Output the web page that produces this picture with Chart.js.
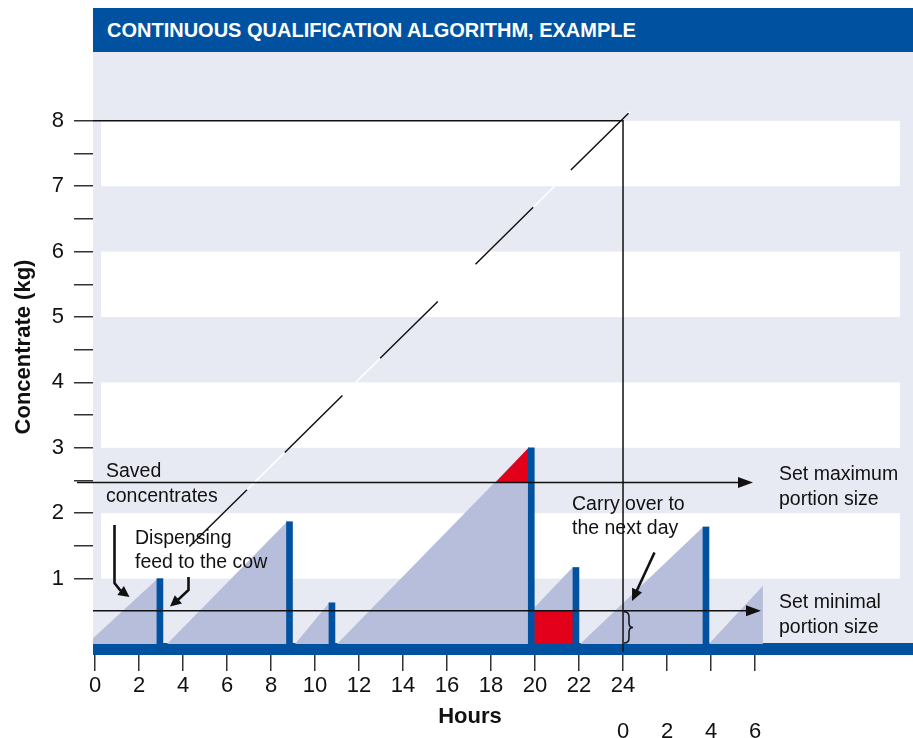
<!DOCTYPE html>
<html>
<head>
<meta charset="utf-8">
<title>Continuous qualification algorithm</title>
<script src="https://cdn.jsdelivr.net/npm/chart.js@4.4.1/dist/chart.umd.min.js"></script>
<style>
  body { margin: 0; background: #fff; }
  #wrap { position: relative; width: 913px; height: 738px; }
  #banner {
    position: absolute; left: 93px; top: 8px; width: 820px; height: 44px;
    background: #0052a0; color: #fff; box-sizing: border-box; padding-left: 14px;
    font: bold 20px "Liberation Sans", Arial, sans-serif; line-height: 44px;
  }
  canvas { position: absolute; left: 0; top: 0; }
</style>
</head>
<body>
<div id="wrap">
  <canvas id="chart" width="913" height="738"></canvas>
  <div id="banner">CONTINUOUS QUALIFICATION ALGORITHM, EXAMPLE</div>
</div>
<script>
// hours run on past midnight: 24 = 0 of the next day
var hourTicks = [0, 2, 4, 6, 8, 10, 12, 14, 16, 18, 20, 22, 24, 26, 28, 30];
var kgMarks = [1, 1.5, 2, 2.5, 3, 3.5, 4, 4.5, 5, 5.5, 6, 6.5, 7, 7.5, 8];
var whiteBands = [[1, 2], [3, 4], [5, 6], [7, 8]];

// build-up of concentrate between visits (start hour/kg -> end hour/kg)
var rampStartH = [-0.09, 3.27, 9.09, 11.0, 19.95, 22.05, 27.9];
var rampStartKg = [0.09, 0, 0, 0, 0.55, 0, 0];
var rampEndH = [2.82, 8.73, 10.64, 19.73, 21.73, 27.64, 30.36];
var rampEndKg = [0.99, 1.87, 0.63, 3.01, 1.18, 1.79, 0.89];

// feed dispensed at each visit
var visitH = [2.95, 8.84, 10.77, 19.83, 21.86, 27.77];
var visitKg = [1.0, 1.87, 0.63, 3.0, 1.17, 1.79];

var maxPortion = 2.47;
var minPortion = 0.51;
var dailyRation = 8;

// saved part above the max portion, and the carry-over below the min portion
var savedH = [18.2, 19.73];
var savedKg = [2.47, 3.01];
var carryH = [19.95, 21.73];

// cumulative allowance line
var allowH = [4.29, 24.32];
var allowKg = [1.49, 8.14];

var blue = '#0051a0';
var lightFill = '#b7bedb';
var red = '#e2001a';
var font = '"Liberation Sans", Arial, sans-serif';

var datasets = [];

datasets.push({
  label: 'day', data: [{x: -0.09, y: dailyRation}, {x: 24, y: dailyRation}, {x: 24, y: -0.12}],
  borderColor: '#111', borderWidth: 1.5, fill: false, order: 1
});
datasets.push({
  label: 'allowance', data: allowH.map(function (h, i) { return {x: h, y: allowKg[i]}; }),
  borderColor: '#111', borderWidth: 1.5, borderDash: [81, 53], fill: false, order: 2
});
datasets.push({
  label: 'allowance bg', data: allowH.map(function (h, i) { return {x: h, y: allowKg[i]}; }),
  borderColor: '#fff', borderWidth: 1.6, fill: false, order: 3
});
datasets.push({
  type: 'bar', label: 'visits', data: visitH.map(function (h, i) { return {x: h, y: visitKg[i]}; }),
  backgroundColor: blue, barThickness: 6, order: 4
});
datasets.push({
  label: 'saved', data: savedH.map(function (h, i) { return {x: h, y: savedKg[i]}; }),
  borderWidth: 0, backgroundColor: red, fill: {value: maxPortion}, order: 5
});
datasets.push({
  label: 'carry', data: carryH.map(function (h) { return {x: h, y: minPortion}; }),
  borderWidth: 0, backgroundColor: red, fill: 'origin', order: 5
});
rampStartH.forEach(function (h, i) {
  datasets.push({
    label: 'ramp' + i,
    data: [{x: h, y: rampStartKg[i]}, {x: rampEndH[i], y: rampEndKg[i]}],
    borderWidth: 0, backgroundColor: lightFill, fill: 'origin', order: 6
  });
});

var backdrop = {
  id: 'backdrop',
  beforeDatasetsDraw: function (chart) {
    var ctx = chart.ctx, a = chart.chartArea, y = chart.scales.y;
    var y0 = y.getPixelForValue(0);
    ctx.save();
    ctx.fillStyle = '#e7e9f3';
    ctx.fillRect(a.left, a.top, a.right - a.left, y0 - a.top);
    ctx.fillStyle = '#fff';
    whiteBands.forEach(function (b) {
      var t = y.getPixelForValue(b[1]), bt = y.getPixelForValue(b[0]);
      ctx.fillRect(a.left + 8, t, 900 - a.left - 8, bt - t);
    });
    ctx.fillStyle = blue;
    ctx.fillRect(a.left, y0 - 1, a.right - a.left, a.bottom - y0 + 1);
    ctx.restore();
  }
};

function arrow(ctx, pts, len, half) {
  var n = pts.length;
  var p = pts[n - 2], q = pts[n - 1];
  var ang = Math.atan2(q[1] - p[1], q[0] - p[0]);
  var bx = q[0] - len * Math.cos(ang), by = q[1] - len * Math.sin(ang);
  ctx.beginPath();
  ctx.moveTo(pts[0][0], pts[0][1]);
  for (var i = 1; i < n - 1; i++) ctx.lineTo(pts[i][0], pts[i][1]);
  ctx.lineTo(bx + Math.cos(ang), by + Math.sin(ang));
  ctx.stroke();
  ctx.beginPath();
  ctx.moveTo(q[0], q[1]);
  ctx.lineTo(bx + half * Math.sin(ang), by - half * Math.cos(ang));
  ctx.lineTo(bx - half * Math.sin(ang), by + half * Math.cos(ang));
  ctx.closePath();
  ctx.fill();
}

var notes = {
  id: 'notes',
  afterDatasetsDraw: function (chart) {
    var ctx = chart.ctx, a = chart.chartArea, y = chart.scales.y;
    ctx.save();
    ctx.strokeStyle = '#111';
    ctx.fillStyle = '#111';
    ctx.lineWidth = 1.5;
    var yMax = y.getPixelForValue(maxPortion);
    var yMin = y.getPixelForValue(minPortion);
    arrow(ctx, [[77, yMax], [753, yMax]], 15, 5.5);
    arrow(ctx, [[a.left, yMin], [761, yMin]], 15, 5.5);

    ctx.lineWidth = 2.6;
    arrow(ctx, [[114.5, 525], [114.5, 583], [120, 590], [129.5, 597]], 11, 5.5);
    arrow(ctx, [[188.5, 577], [188.5, 590], [180, 598], [170, 606.5]], 11, 5.5);
    arrow(ctx, [[654.5, 552.5], [632, 601]], 12, 5.5);

    // brace at the carry-over
    ctx.lineWidth = 1.5;
    ctx.beginPath();
    ctx.moveTo(624, yMin + 1);
    ctx.quadraticCurveTo(629, yMin + 1, 629, yMin + 6);
    ctx.lineTo(629, 623);
    ctx.quadraticCurveTo(629, 627.5, 633, 627.5);
    ctx.quadraticCurveTo(629, 627.5, 629, 632);
    ctx.lineTo(629, 638);
    ctx.quadraticCurveTo(629, 643, 624, 643);
    ctx.stroke();

    ctx.font = '19.5px ' + font;
    ctx.textBaseline = 'alphabetic';
    ctx.textAlign = 'left';
    [['Saved', 106, 477], ['concentrates', 106, 502],
     ['Dispensing', 135, 544], ['feed to the cow', 135, 568],
     ['Carry over to', 572, 510], ['the next day', 572, 533.5],
     ['Set maximum', 779, 480], ['portion size', 779, 505],
     ['Set minimal', 779, 608], ['portion size', 779, 633]].forEach(function (t) {
      ctx.fillText(t[0], t[1], t[2]);
    });

    ctx.font = 'bold 22px ' + font;
    ctx.textAlign = 'center';
    ctx.textBaseline = 'middle';
    ctx.fillText('Hours', 470, 717);
    ctx.translate(24, 347);
    ctx.rotate(-Math.PI / 2);
    ctx.fillText('Concentrate (kg)', 0, 0);
    ctx.restore();
  }
};

new Chart(document.getElementById('chart'), {
  type: 'line',
  data: { datasets: datasets },
  options: {
    responsive: false,
    animation: false,
    devicePixelRatio: 1,
    layout: { padding: { top: 52, left: 0, right: 0, bottom: 0 } },
    plugins: { legend: { display: false }, tooltip: { enabled: false } },
    elements: { point: { radius: 0 }, line: { tension: 0 } },
    scales: {
      x: {
        type: 'linear', min: -0.0909, max: 37.18, offset: false,
        afterBuildTicks: function (s) { s.ticks = hourTicks.map(function (v) { return {value: v}; }); },
        afterFit: function (s) { s.height = 83; },
        grid: { offset: false, drawOnChartArea: false, drawTicks: true, tickLength: 16, color: '#333', lineWidth: 1.5 },
        border: { display: false },
        ticks: {
          autoSkip: false, maxRotation: 0, padding: -8, color: '#111',
          font: { family: font, size: 22, lineHeight: 46 / 22 },
          callback: function (v) {
            if (v < 24) return String(v);
            if (v === 24) return ['24', '0'];
            return ['', String(v - 24)];
          }
        }
      },
      y: {
        type: 'linear', min: -0.168, max: 9.052,
        afterBuildTicks: function (s) { s.ticks = kgMarks.map(function (v) { return {value: v}; }); },
        afterFit: function (s) { s.width = 93; },
        grid: { drawOnChartArea: false, drawTicks: true, tickLength: 19, color: '#333', lineWidth: 1.5 },
        border: { display: false },
        ticks: {
          autoSkip: false, padding: 10, color: '#111',
          font: { family: font, size: 22 },
          callback: function (v) { return Number.isInteger(v) ? String(v) : ''; }
        }
      }
    }
  },
  plugins: [backdrop, notes]
});
</script>
</body>
</html>
